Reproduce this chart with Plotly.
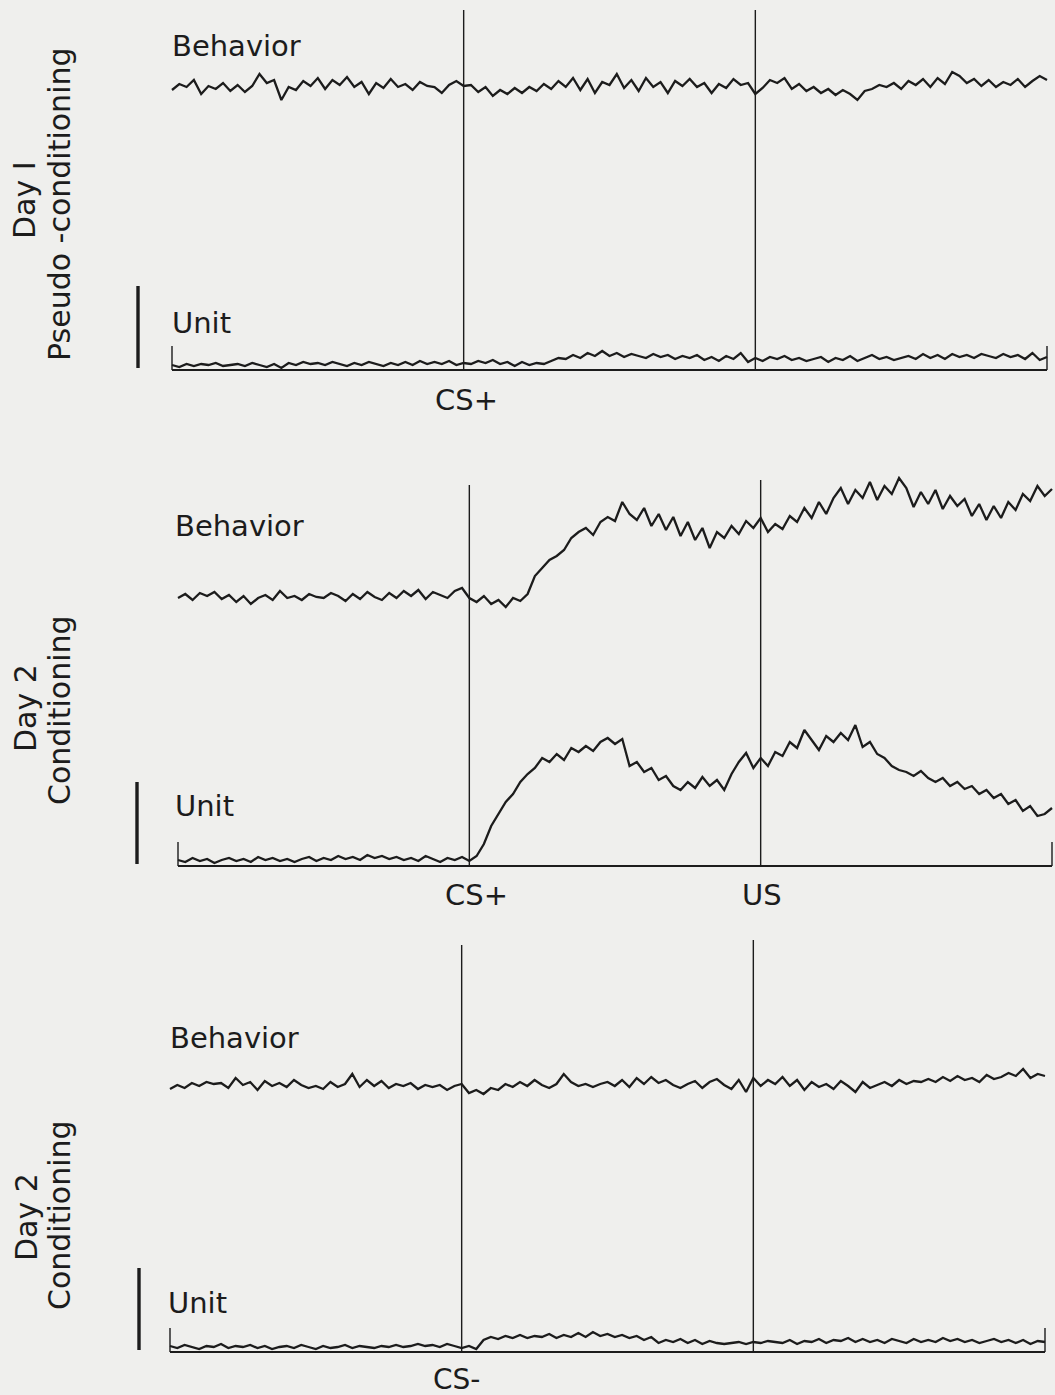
import numpy as np
import plotly.graph_objects as go

W, HT = 1055, 1395

# ---------------- data (values = trace height above the baseline, pen units) ----------------
cs_time = 10.0
us_time = 20.0
t_end = 30.0

p1_behavior = [280, 286, 283, 290, 276, 284, 281, 287, 279, 285, 278, 284,
               296, 287, 290, 270, 283, 280, 289, 284, 292, 281, 290, 285,
               293, 283, 288, 276, 287, 282, 291, 283, 286, 280, 288, 284,
               283, 277, 285, 289, 284, 285, 278, 283, 274, 280, 276, 282,
               277, 283, 279, 286, 281, 289, 283, 292, 280, 291, 277, 288,
               285, 296, 282, 290, 279, 292, 283, 288, 277, 289, 284, 291,
               283, 287, 277, 286, 282, 291, 285, 287, 276, 282, 290, 287,
               292, 281, 286, 279, 283, 277, 281, 275, 280, 276, 270, 279,
               281, 285, 283, 287, 281, 289, 285, 291, 283, 292, 286, 298,
               294, 287, 291, 284, 290, 283, 288, 285, 291, 283, 289, 294, 290]
p1_unit = [5, 3, 6, 4, 6, 5, 7, 4, 5, 6, 4, 7, 5, 3, 6, 2, 7, 5, 8, 6,
           7, 5, 8, 6, 4, 7, 5, 8, 6, 4, 7, 5, 8, 5, 9, 6, 8, 6, 9, 5,
           7, 6, 9, 7, 10, 6, 8, 4, 8, 5, 7, 6, 9, 12, 11, 15, 12, 17, 14, 19,
           14, 17, 13, 16, 14, 12, 16, 13, 15, 11, 14, 12, 15, 10, 13, 9, 14, 11, 17, 8,
           12, 9, 13, 11, 14, 10, 12, 9, 11, 13, 8, 12, 10, 14, 9, 12, 15, 11, 13, 10,
           12, 14, 11, 16, 12, 15, 11, 16, 13, 15, 12, 16, 14, 12, 16, 13, 15, 11, 17, 10, 13]

p2_behavior = [268, 272, 266, 273, 270, 274, 267, 271, 264, 270, 262, 268,
               271, 266, 275, 268, 270, 266, 272, 269, 268, 273, 270, 265,
               272, 267, 274, 269, 266, 273, 268, 275, 270, 276, 267, 274,
               271, 268, 275, 278, 268, 264, 270, 262, 266, 259, 268, 265,
               272, 290, 298, 306, 310, 316, 328, 334, 338, 331, 344, 349,
               345, 364, 352, 346, 358, 340, 352, 336, 349, 330, 344, 326,
               338, 318, 334, 328, 340, 332, 345, 338, 348, 334, 342, 337,
               350, 344, 358, 348, 364, 352, 368, 378, 362, 376, 368, 384,
               366, 380, 372, 388, 378, 359, 374, 362, 376, 357, 370, 360,
               367, 350, 362, 346, 360, 348, 364, 356, 372, 365, 380, 370, 377]
p2_unit = [6, 4, 8, 5, 7, 3, 6, 8, 5, 7, 4, 9, 6, 8, 5, 7, 4, 7, 9, 5,
           8, 6, 10, 7, 9, 6, 11, 8, 10, 7, 9, 6, 8, 5, 10, 7, 4, 8, 6, 9,
           5, 10, 22, 40, 52, 64, 72, 84, 92, 98, 108, 104, 112, 106, 118, 114,
           120, 115, 124, 128, 122, 127, 100, 104, 94, 98, 86, 90, 80, 76, 84, 78,
           89, 80, 86, 76, 92, 104, 113, 98, 108, 100, 114, 110, 124, 118, 136, 126,
           116, 130, 124, 133, 126, 141, 119, 124, 112, 108, 100, 96, 94, 90, 95, 88,
           84, 88, 80, 84, 77, 80, 72, 76, 68, 72, 62, 66, 55, 60, 50, 52, 58]

p3_behavior = [263, 267, 264, 269, 266, 270, 268, 269, 264, 274, 267, 270,
               262, 271, 266, 269, 265, 272, 267, 264, 266, 263, 270, 265,
               268, 278, 265, 272, 266, 271, 264, 268, 266, 269, 263, 267,
               265, 267, 262, 266, 268, 259, 262, 258, 264, 262, 268, 265,
               270, 266, 272, 267, 264, 268, 278, 270, 266, 268, 265, 268,
               270, 266, 272, 265, 274, 268, 275, 269, 272, 267, 264, 268,
               271, 264, 270, 273, 267, 263, 272, 260, 274, 266, 272, 268,
               275, 266, 272, 262, 270, 265, 268, 263, 271, 266, 260, 270,
               264, 267, 270, 266, 272, 268, 271, 270, 273, 270, 275, 271,
               276, 272, 274, 270, 277, 273, 275, 279, 276, 283, 274, 278, 276]
p3_unit = [6, 4, 7, 5, 3, 6, 5, 8, 4, 6, 5, 7, 4, 6, 3, 5, 6, 4, 7, 5,
           3, 6, 4, 5, 7, 4, 6, 5, 4, 6, 5, 7, 5, 6, 8, 6, 7, 5, 8, 6,
           4, 6, 3, 12, 15, 13, 16, 14, 17, 14, 16, 15, 18, 14, 17, 15,
           19, 15, 20, 16, 18, 15, 17, 14, 16, 12, 15, 9, 12, 10, 13, 9,
           12, 8, 11, 9, 8, 9, 10, 8, 10, 9, 11, 10, 9, 12, 8, 11,
           10, 13, 9, 12, 11, 14, 10, 13, 10, 12, 9, 13, 11, 9, 13, 10,
           12, 10, 14, 11, 13, 10, 12, 9, 11, 13, 10, 12, 9, 12, 8, 11, 10]

scale_bar = 82          # calibration bar height (pen units)
end_tick = 24           # baseline end marks
stim_labels = [["CS+"], ["CS+", "US"], ["CS-"]]
day_labels = ["Day I", "Day 2", "Day 2"]
cond_labels = ["Pseudo -conditioning", "Conditioning", "Conditioning"]

# ---------------- layout geometry (pixels) ----------------
panels = [
    dict(top=10, base=370, x0=172, x1=1047, cs_top=360, us_top=360,
         beh=p1_behavior, unit=p1_unit, beh_lab=(172, 46), unit_lab=(172, 323),
         stim_y=400, stim_x=[466], day=(24, 200), cond=(59, 204), bar_x=138),
    dict(top=480, base=866, x0=178, x1=1052, cs_top=381, us_top=386,
         beh=p2_behavior, unit=p2_unit, beh_lab=(175, 526), unit_lab=(175, 806),
         stim_y=895, stim_x=[476, 762], day=(25, 708), cond=(59, 710), bar_x=137),
    dict(top=940, base=1352, x0=170, x1=1045, cs_top=407, us_top=412,
         beh=p3_behavior, unit=p3_unit, beh_lab=(170, 1038), unit_lab=(168, 1303),
         stim_y=1379, stim_x=[456], day=(26, 1217), cond=(59, 1215), bar_x=139),
]

INK = "#1c1c1c"
FONT = "DejaVu Sans"

fig = go.Figure()
shapes = []
annotations = []

for i, p in enumerate(panels, start=1):
    xa = "x" if i == 1 else f"x{i}"
    ya = "y" if i == 1 else f"y{i}"
    xkey = "xaxis" if i == 1 else f"xaxis{i}"
    ykey = "yaxis" if i == 1 else f"yaxis{i}"
    n = len(p["beh"])
    t = np.linspace(0, t_end, n)

    pps = (p["x1"] - p["x0"]) / t_end
    left_px, right_px = p["x0"] - 20, min(p["x1"] + 3, W)
    xr = [(left_px - p["x0"]) / pps, t_end + (right_px - p["x1"]) / pps]
    H = p["base"] - p["top"]
    fig.update_layout(**{
        xkey: dict(domain=[left_px / W, right_px / W], range=xr,
                   visible=False, anchor=ya, fixedrange=True),
        ykey: dict(domain=[1 - (p["base"] + 8) / HT, 1 - (p["top"] - 4) / HT],
                   range=[-8, H + 4], visible=False, anchor=xa, fixedrange=True),
    })

    for vals in (p["beh"], p["unit"]):
        fig.add_trace(go.Scatter(x=t, y=vals, mode="lines", xaxis=xa, yaxis=ya,
                                 line=dict(color=INK, width=2.3), hoverinfo="skip",
                                 showlegend=False))

    # baseline and end marks
    shapes.append(dict(type="line", xref=xa, yref=ya, x0=0, x1=t_end, y0=0, y1=0,
                       line=dict(color=INK, width=2.2)))
    for tx in (0, t_end):
        shapes.append(dict(type="line", xref=xa, yref=ya, x0=tx, x1=tx, y0=0, y1=end_tick,
                           line=dict(color=INK, width=1.4)))
    # stimulus markers
    shapes.append(dict(type="line", xref=xa, yref=ya, x0=cs_time, x1=cs_time, y0=0,
                       y1=p["cs_top"], line=dict(color=INK, width=1.4)))
    shapes.append(dict(type="line", xref=xa, yref=ya, x0=us_time, x1=us_time, y0=0,
                       y1=p["us_top"], line=dict(color=INK, width=1.4)))
    # calibration bar
    shapes.append(dict(type="line", xref="paper", yref=ya, x0=p["bar_x"] / W, x1=p["bar_x"] / W,
                       y0=2, y1=2 + scale_bar, line=dict(color=INK, width=3.4)))

    def txt(s, x, y, size, angle=0, xanchor="left"):
        annotations.append(dict(text=s, x=x / W, y=1 - y / HT, xref="paper", yref="paper",
                                showarrow=False, xanchor=xanchor, yanchor="middle",
                                textangle=angle, font=dict(family=FONT, size=size, color=INK)))

    txt("Behavior", p["beh_lab"][0] - 2, p["beh_lab"][1], 29)
    txt("Unit", p["unit_lab"][0] - 2, p["unit_lab"][1], 29)
    for s, sx in zip(stim_labels[i - 1], p["stim_x"]):
        txt(s, sx, p["stim_y"], 28 if i == 3 else 29, xanchor="center")
    txt(day_labels[i - 1], p["day"][0], p["day"][1], 30, angle=-90, xanchor="center")
    txt(cond_labels[i - 1], p["cond"][0], p["cond"][1], 30, angle=-90, xanchor="center")

fig.update_layout(width=W, height=HT, autosize=False,
                  margin=dict(l=0, r=0, t=0, b=0),
                  paper_bgcolor="#efefed", plot_bgcolor="rgba(0,0,0,0)",
                  shapes=shapes, annotations=annotations, showlegend=False)

fig.write_html("out.html", config={"displayModeBar": False, "staticPlot": True},
               post_script="document.body.style.margin='0px';document.body.style.padding='0px';"
                           "document.body.style.overflow='hidden';")
